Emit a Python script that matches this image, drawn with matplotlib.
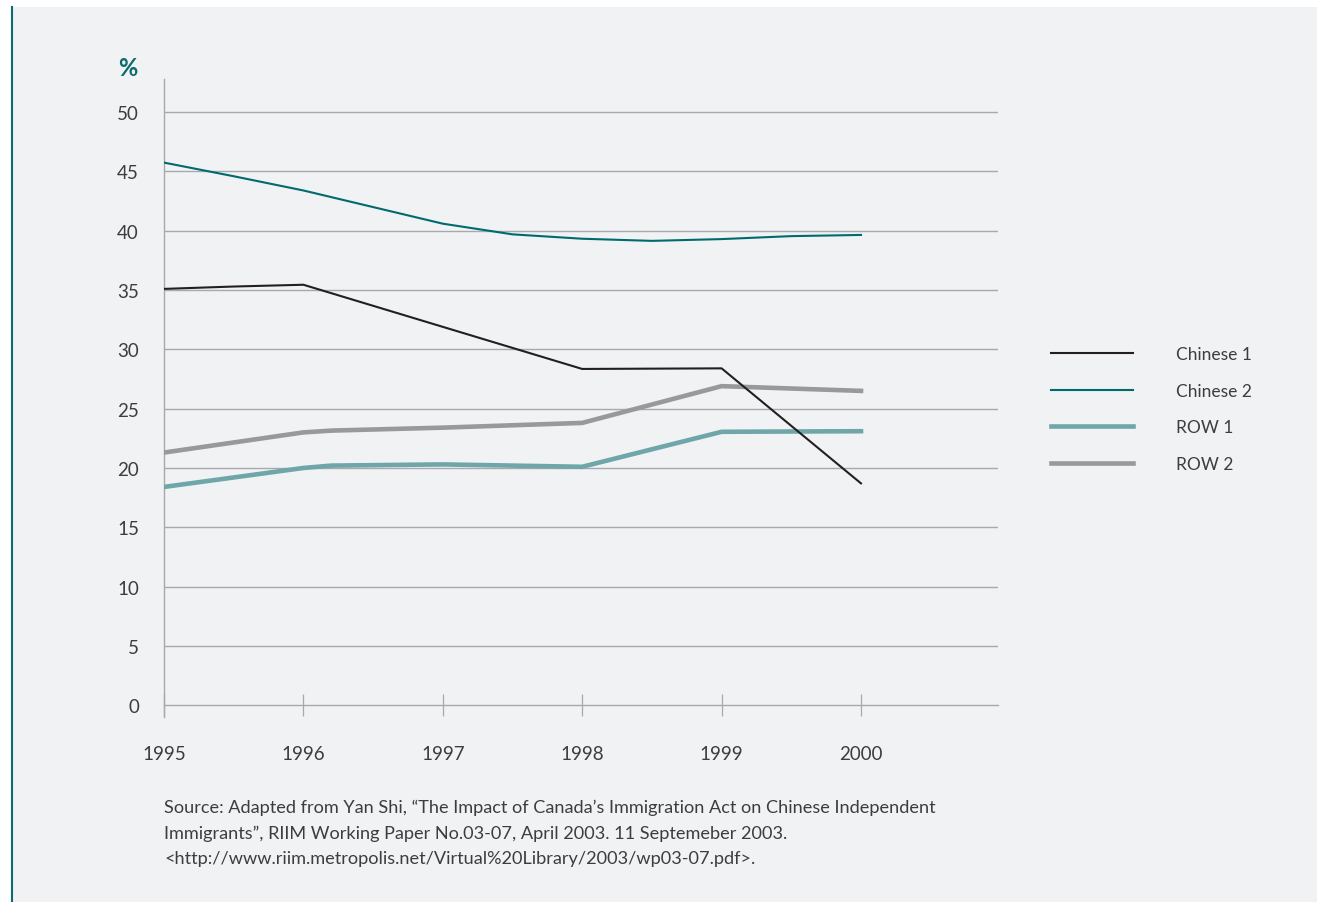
import numpy as np
import matplotlib.pyplot as plt
from matplotlib.patches import Rectangle
from matplotlib.lines import Line2D

# values (per cent)
yrs_c1 = [1995, 1995.5, 1996, 1997, 1998, 1999, 2000]
chinese_1 = [35.1, 35.3, 35.45, 31.9, 28.35, 28.4, 18.7]

yrs_c2 = [1995, 1995.5, 1996, 1996.5, 1997, 1997.5, 1998, 1998.5, 1999, 1999.5, 2000]
chinese_2 = [45.75, 44.6, 43.4, 42.0, 40.6, 39.7, 39.33, 39.15, 39.3, 39.55, 39.65]

yrs_row = [1995, 1996, 1996.2, 1997, 1998, 1999, 2000]
row_1 = [18.4, 20.0, 20.2, 20.3, 20.1, 23.05, 23.1]
row_2 = [21.3, 23.0, 23.15, 23.4, 23.8, 26.9, 26.5]

year_ticks = [1995, 1996, 1997, 1998, 1999, 2000]
y_ticks = list(range(0, 55, 5))

source = ("Source: Adapted from Yan Shi, \u201cThe Impact of Canada\u2019s Immigration Act on Chinese Independent\n"
          "Immigrants\u201d, RIIM Working Paper No.03-07, April 2003. 11 Septemeber 2003.\n"
          "<http://www.riim.metropolis.net/Virtual%20Library/2003/wp03-07.pdf>.")

plt.rcParams['font.family'] = ['Lato', 'DejaVu Sans']

bg = '#f1f2f4'
grid_c = '#a7a9ac'
txt_c = '#3d3d3d'
W, H = 1317, 903

fig = plt.figure(figsize=(W/100, H/100), dpi=100)
fig.patch.set_facecolor('white')
fig.patches.append(Rectangle((12/W, 0), 1 - 12/W, 1 - 8/H, transform=fig.transFigure,
                             facecolor=bg, edgecolor='none', zorder=-10))
fig.add_artist(Line2D([12/W, 12/W], [0, 1 - 8/H], transform=fig.transFigure,
                      color='#0b6b6e', lw=1.5))

ax = fig.add_axes([164/W, (H-718)/H, (998-164)/W, (718-80)/H])
ax.set_facecolor('none')
ax.set_xlim(1995, 2000 + 834/139.4 - 5)
ax.set_ylim(-1.0, 52.8)

for s in ['top', 'right']:
    ax.spines[s].set_visible(False)
ax.spines['left'].set_color(grid_c)
ax.spines['left'].set_linewidth(1.0)
ax.spines['bottom'].set_position(('data', 0))
ax.spines['bottom'].set_color(grid_c)
ax.spines['bottom'].set_linewidth(1.0)

for v in y_ticks[1:]:
    ax.axhline(v, color=grid_c, lw=1.0, zorder=1)

ax.set_xticks(year_ticks)
ax.set_xticklabels([str(y) for y in year_ticks])
ax.tick_params(axis='x', direction='inout', length=16, width=0.9, color=grid_c,
               pad=21, labelsize=13.5, labelcolor=txt_c)
ax.set_yticks(y_ticks)
ax.tick_params(axis='y', length=0, pad=18, labelsize=13.5, labelcolor=txt_c)

ax.plot(yrs_row, row_2, color='#98999b', lw=3.3, label='ROW 2', zorder=3)
ax.plot(yrs_row, row_1, color='#6ea6a9', lw=3.3, label='ROW 1', zorder=3)
ax.plot(yrs_c2, chinese_2, color='#006b6e', lw=1.5, label='Chinese 2', zorder=4)
ax.plot(yrs_c1, chinese_1, color='#231f20', lw=1.5, label='Chinese 1', zorder=5)

handles, labels = ax.get_legend_handles_labels()
order = [3, 2, 1, 0]
leg = ax.legend([handles[i] for i in order], [labels[i] for i in order],
                loc='center left', bbox_to_anchor=(1051/W, (H-410)/H),
                bbox_transform=fig.transFigure, frameon=False,
                fontsize=12.5, handlelength=4.75, handletextpad=2.45,
                labelspacing=1.2, borderpad=0, borderaxespad=0)
for t in leg.get_texts():
    t.set_color(txt_c)

fig.text(128/W, 1 - 68/H, '%', ha='center', va='center', fontsize=17,
         fontweight='bold', color='#0b6b6e')

fig.text(164/W, 1 - 800/H, source, ha='left', va='top', fontsize=13.1,
         color=txt_c, linespacing=1.68)

fig.savefig('out.png', dpi=100, facecolor=fig.get_facecolor())
